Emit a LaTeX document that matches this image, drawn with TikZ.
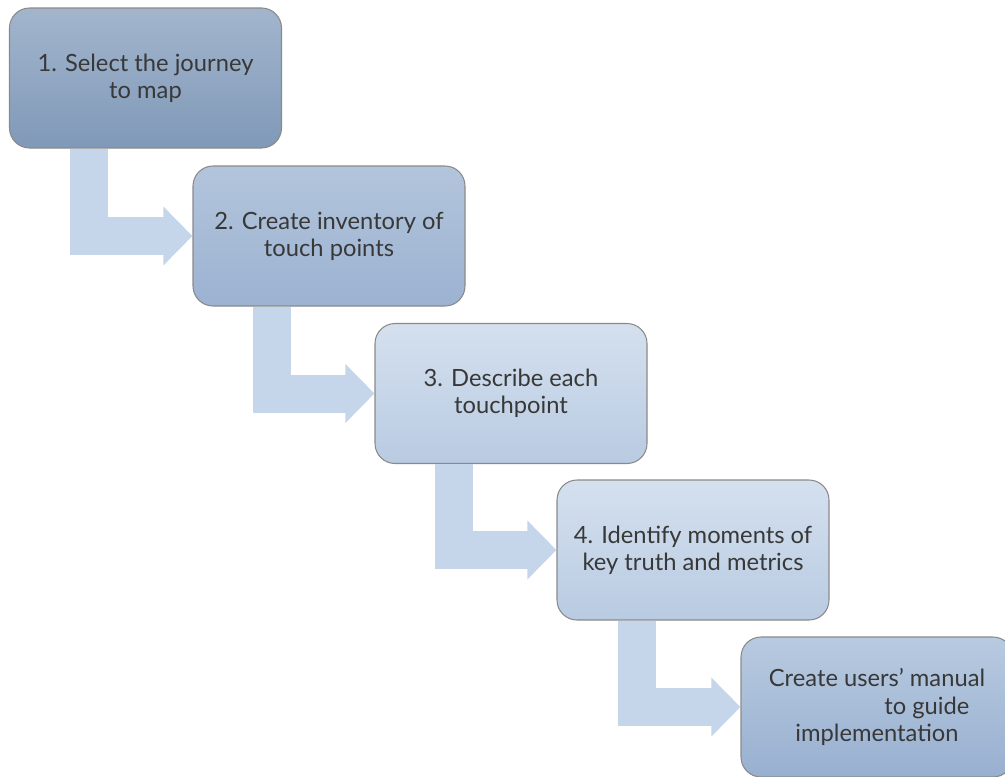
\documentclass[tikz,border=0pt]{standalone}
\usepackage{fontspec}
\setmainfont{Lato}
\usetikzlibrary{arrows.meta}

\definecolor{stepline}{HTML}{8A8A8A}
\definecolor{steptext}{HTML}{383838}
\definecolor{flowarrow}{HTML}{C5D5EA}

\tikzset{
    stepbox/.style={rectangle, rounded corners=0.4cm, draw=stepline, line width=0.6pt,
        minimum width=5.44cm, minimum height=2.8cm, align=center,
        text=steptext, font=\fontsize{13.5}{15.5}\selectfont},
    flow/.style={flowarrow, line width=0.76cm,
        -{Triangle[length=0.58cm, width=1.14cm]}}
}

\begin{document}
\begin{tikzpicture}
        \useasboundingbox (0,0) rectangle (20.1,-15.52);
        \clip (0,0) rectangle (20.1,-15.52);
        \coordinate (s1) at (1.78,-2.96);
        \coordinate (s2) at (5.44,-6.1);
        \coordinate (s3) at (9.08,-9.26);
        \coordinate (s4) at (12.74,-12.4);
        \node[stepbox, top color={rgb,255:red,163;green,181;blue,205}, bottom color={rgb,255:red,128;green,153;blue,184}]
            (journey) at (2.91,-1.56) {1. Select the journey\\to map};
        \node[stepbox, top color={rgb,255:red,179;green,197;blue,220}, bottom color={rgb,255:red,155;green,178;blue,209}]
            (inventory) at (6.58,-4.72) {2. Create inventory of\\touch points};
        \node[stepbox, top color={rgb,255:red,212;green,224;blue,238}, bottom color={rgb,255:red,185;green,203;blue,226}]
            (describe) at (10.22,-7.87) {3. Describe each\\touchpoint};
        \node[stepbox, top color={rgb,255:red,212;green,224;blue,238}, bottom color={rgb,255:red,185;green,203;blue,226}]
            (identify) at (13.86,-11.0) {4. Identify moments of\\key truth and metrics};
        \node[stepbox, top color={rgb,255:red,184;green,202;blue,224}, bottom color={rgb,255:red,152;green,176;blue,208}]
            (manual) at (17.54,-14.14) {Create users' manual\\\hspace*{4.2em}to guide\\implementation};
        % fat L-shaped connectors
        \draw[flow] (journey.south -| s1) |- (inventory.west);
        \draw[flow] (inventory.south -| s2) |- (describe.west);
        \draw[flow] (describe.south -| s3) |- (identify.west);
        \draw[flow] (identify.south -| s4) |- (manual.west);
    \end{tikzpicture}
\end{document}
